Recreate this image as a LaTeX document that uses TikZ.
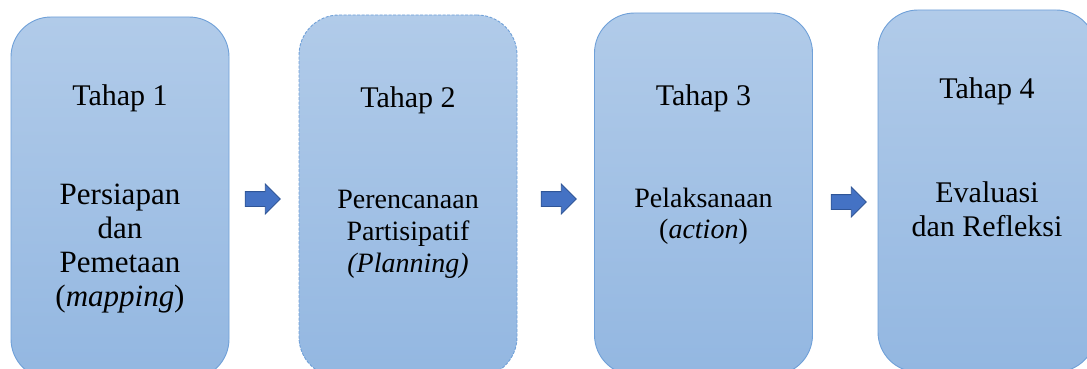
\documentclass[tikz,border=0pt]{standalone}
\usepackage{fontspec}
\setmainfont{Liberation Serif}
\usetikzlibrary{shapes.arrows}

\definecolor{atas}{HTML}{B1CBE9}
\definecolor{bawah}{HTML}{93B7E1}
\definecolor{garis}{HTML}{6FA0D8}
\definecolor{panahisi}{HTML}{4472C4}
\definecolor{panahtepi}{HTML}{2F5597}

\begin{document}
\begin{tikzpicture}[x=1pt, y=-1pt,
    tahap/.style={draw=garis, line width=0.9pt, rounded corners=40pt, top color=atas, bottom color=bawah, minimum width=218pt, minimum height=362pt, inner sep=0pt},
    panah/.style={single arrow, draw=panahtepi, fill=panahisi, line width=0.8pt, minimum height=35pt, inner xsep=0pt, inner ysep=7pt, single arrow head extend=7.5pt},
    judul/.style={font=\fontsize{30}{34}\selectfont, anchor=base},
    isi/.style={align=center, anchor=base}]
            \useasboundingbox (0,0) rectangle (1087,369);
            \clip (0,0) rectangle (1087,369);

            % Kotak
            \node[tahap] (t1) at (120,198) {};
            \node[tahap, dash pattern=on 3pt off 1.5pt] (t2) at (408,196) {};
            \node[tahap] (t3) at (703.5,194) {};
            \node[tahap] (t4) at (987,191) {};

            % Teks (base = baris terakhir)
            \node[judul] (j1) at (120,105) {Tahap 1};
            \node[judul] (j2) at (408,107) {Tahap 2};
            \node[judul] (j3) at (703.5,106) {Tahap 3};
            \node[judul] (j4) at (987,99) {Tahap 4};
            \node[isi, font=\fontsize{31}{34}\selectfont] (k1) at (120,306) {Persiapan\\dan\\Pemetaan\\(\textit{mapping})};
            \node[isi, font=\fontsize{28}{32}\selectfont] (k2) at (408,272) {Perencanaan\\Partisipatif\\\textit{(Planning)}};
            \node[isi, font=\fontsize{28}{31}\selectfont] (k3) at (703.5,238) {Pelaksanaan\\(\textit{action})};
            \node[isi, font=\fontsize{30}{34}\selectfont] (k4) at (987,236) {Evaluasi\\dan Refleksi};

            % Panah
            \node[panah] (p1) at (259,199) {};
            \node[panah] (p2) at (555,199) {};
            \node[panah] (p3) at (845,202) {};
          \end{tikzpicture}
\end{document}
